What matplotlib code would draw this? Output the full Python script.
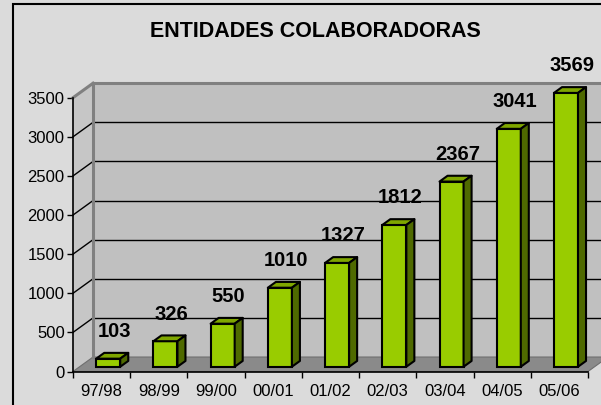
import matplotlib
matplotlib.use("Agg")
import matplotlib.pyplot as plt
from matplotlib.patches import Polygon, Rectangle

categories = ["97/98", "98/99", "99/00", "00/01", "01/02", "02/03", "03/04", "04/05", "05/06"]
values = [103, 326, 550, 1010, 1327, 1812, 2367, 3041, 3569]
yticks = [0, 500, 1000, 1500, 2000, 2500, 3000, 3500]
title = "ENTIDADES COLABORADORAS"

plt.rcParams['font.family'] = ['Liberation Sans', 'DejaVu Sans']

W, H = 601, 405
fig = plt.figure(figsize=(W / 100, H / 100), dpi=100)
fig.patch.set_facecolor('#DBDBDB')

ax = fig.add_axes([73 / W, (H - 371.5) / H, 515 / W, (371.5 - 97.7) / H])
ax.set_facecolor('none')
n = len(categories)
ymax = 3500
ax.set_xlim(0, n)
ax.set_ylim(0, ymax)

dx = 0.35     # depth offset, category units
dy = 185.0    # depth offset, value units
f0, f1 = 0.33, 0.73
w = 0.42

wall_c = '#C0C0C0'
edge_c = '#808080'

# back wall
ax.add_patch(Polygon([(dx, dy), (n + dx, dy), (n + dx, ymax + dy), (dx, ymax + dy)],
                     closed=True, fc=wall_c, ec='none', zorder=1, clip_on=False))
# left wall
ax.add_patch(Polygon([(0, 0), (dx, dy), (dx, ymax + dy), (0, ymax)],
                     closed=True, fc='#C6C6C6', ec='none', zorder=1, clip_on=False))
# floor
ax.add_patch(Polygon([(0, 0), (n, 0), (n + dx, dy), (dx, dy)],
                     closed=True, fc='#8A8A8A', ec='#6E6E6E', lw=0.8, zorder=2, clip_on=False))

# gridlines
for v in yticks[1:-1]:
    ax.plot([dx, n + dx], [v + dy, v + dy], color='black', lw=1.0, zorder=2, clip_on=False)
    ax.plot([0, dx], [v, v + dy], color='black', lw=1.0, zorder=2, clip_on=False)

# wall edges
ax.plot([dx, dx], [dy, ymax + dy], color=edge_c, lw=2.2, zorder=2, clip_on=False)
ax.plot([dx, n + dx], [ymax + dy, ymax + dy], color=edge_c, lw=2.2, zorder=2, clip_on=False)
ax.plot([0, dx], [ymax, ymax + dy], color=edge_c, lw=2.2, zorder=2, clip_on=False)

front_c = '#99CC00'
top_c = '#7FA600'
side_c = '#4F6A00'
ddx = (f1 - f0) * dx
ddy = (f1 - f0) * dy

for i, v in enumerate(values):
    h = min(v, ymax)
    xc = i + 0.5 + f0 * dx
    b0 = f0 * dy
    x0 = xc - w / 2
    ax.bar(xc, h, width=w, bottom=b0, color=front_c, edgecolor='black', lw=1.5,
           zorder=4, clip_on=False)
    ax.add_patch(Polygon([(x0, b0 + h), (x0 + w, b0 + h), (x0 + w + ddx, b0 + h + ddy),
                          (x0 + ddx, b0 + h + ddy)], closed=True, fc=top_c, ec='black',
                         lw=1.5, zorder=4, clip_on=False, joinstyle='round'))
    ax.add_patch(Polygon([(x0 + w, b0), (x0 + w + ddx, b0 + ddy), (x0 + w + ddx, b0 + h + ddy),
                          (x0 + w, b0 + h)], closed=True, fc=side_c, ec='black',
                         lw=1.5, zorder=4, clip_on=False, joinstyle='round'))
    ax.annotate(str(v), xy=(i + 0.5 + 0.22, h + b0), xytext=(0, 19.5),
                textcoords='offset points', ha='center', va='center',
                fontsize=14.5, fontweight='bold', color='black', zorder=6,
                annotation_clip=False)

for s in ['top', 'right']:
    ax.spines[s].set_visible(False)
for s in ['left', 'bottom']:
    ax.spines[s].set_color('black')
    ax.spines[s].set_linewidth(1.2)
    ax.spines[s].set_zorder(5)

ax.set_yticks(yticks)
ax.set_yticklabels([str(t) for t in yticks])
ax.set_xticks(range(n + 1))
ax.set_xticklabels([])
ax.set_xticks([i + 0.5 for i in range(n)], minor=True)
ax.set_xticklabels(categories, minor=True)
ax.tick_params(axis='x', which='major', direction='out', length=4, width=1, color='black')
ax.tick_params(axis='x', which='minor', length=0, pad=9, labelsize=12)
ax.tick_params(axis='y', direction='out', length=4, width=1, color='black', pad=2, labelsize=12)

fig.text(315 / W, 1 - 31.7 / H, title, ha='center', va='center',
         fontsize=15.5, fontweight='bold', color='black')

fig.add_artist(Rectangle((13 / W, -0.05), 1.1, (H - 4) / H + 0.05, transform=fig.transFigure,
                         fill=False, ec='black', lw=1.5))

fig.savefig('out.png', dpi=100, facecolor=fig.get_facecolor())
